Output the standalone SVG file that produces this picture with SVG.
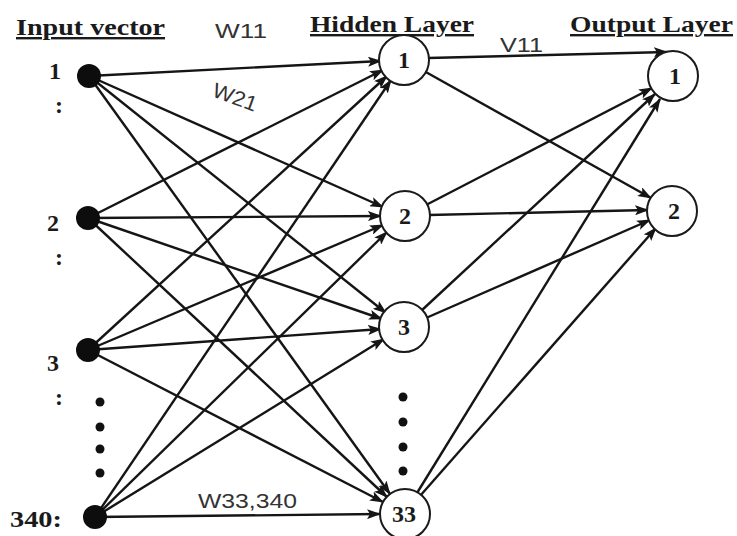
<svg xmlns="http://www.w3.org/2000/svg" width="737" height="536" viewBox="0 0 737 536">
  <style>
    .title { font-family: "Liberation Serif", "Times New Roman", serif; font-weight: bold; font-size: 24px; fill: #1a1a1a; text-decoration: underline; }
    .num { font-family: "Liberation Serif", "Times New Roman", serif; font-weight: bold; font-size: 24px; fill: #1a1a1a; }
    .wt { font-family: "Liberation Sans", Arial, sans-serif; font-size: 21px; fill: #333; }
    .edge { stroke: #151515; stroke-width: 2.4; fill: none; marker-end: url(#arrow); }
    .neuron { fill: #fff; stroke: #1a1a1a; stroke-width: 2; }
    .input { fill: #0d0d0d; }
    .dot { fill: #111; }
  </style>
  <defs>
    <marker id="arrow" markerUnits="userSpaceOnUse" markerWidth="14" markerHeight="10" refX="13" refY="5" orient="auto">
      <path d="M0,0 L14,5 L0,10 L3,5 z" fill="#151515"/>
    </marker>
  </defs>
  <rect width="737" height="536" fill="#fff"/>

  <!-- layer headings -->
  <text class="title" x="16" y="35" textLength="149" lengthAdjust="spacingAndGlyphs">Input vector</text>
  <text class="title" x="310" y="32" textLength="164" lengthAdjust="spacingAndGlyphs">Hidden Layer</text>
  <text class="title" x="570" y="32" textLength="163" lengthAdjust="spacingAndGlyphs">Output Layer</text>

  <!-- connectors -->
  <g id="connectors">
    <!-- input 1 -->
    <line class="edge" x1="89" y1="76" x2="381" y2="61"/>
    <line class="edge" x1="89" y1="76" x2="383" y2="207"/>
    <line class="edge" x1="89" y1="76" x2="386" y2="313"/>
    <line class="edge" x1="89" y1="76" x2="390" y2="494"/>
    <!-- input 2 -->
    <line class="edge" x1="88" y1="218" x2="383" y2="70"/>
    <line class="edge" x1="88" y1="218" x2="381" y2="216"/>
    <line class="edge" x1="88" y1="218" x2="382" y2="319"/>
    <line class="edge" x1="88" y1="218" x2="387" y2="497"/>
    <!-- input 3 -->
    <line class="edge" x1="88" y1="350" x2="387" y2="76"/>
    <line class="edge" x1="88" y1="350" x2="383" y2="225"/>
    <line class="edge" x1="88" y1="350" x2="381" y2="329"/>
    <line class="edge" x1="88" y1="350" x2="383" y2="502"/>
    <!-- input 340 -->
    <line class="edge" x1="95" y1="517" x2="391" y2="80"/>
    <line class="edge" x1="95" y1="517" x2="387" y2="232"/>
    <line class="edge" x1="95" y1="517" x2="384" y2="339"/>
    <line class="edge" x1="95" y1="517" x2="380" y2="514"/>
    <!-- hidden to output -->
    <line class="edge" x1="428" y1="58" x2="667" y2="52"/>
    <line class="edge" x1="424" y1="71" x2="651" y2="198"/>
    <line class="edge" x1="426" y1="205" x2="652" y2="88"/>
    <line class="edge" x1="429" y1="215" x2="648" y2="210"/>
    <line class="edge" x1="421" y1="311" x2="655" y2="94"/>
    <line class="edge" x1="426" y1="318" x2="650" y2="220"/>
    <line class="edge" x1="417" y1="493" x2="660" y2="99"/>
    <line class="edge" x1="420" y1="496" x2="656" y2="228"/>
  </g>

  <!-- weight labels -->
  <text class="wt" x="215" y="38" textLength="52" lengthAdjust="spacingAndGlyphs">W11</text>
  <text class="wt" x="211" y="96" transform="rotate(20 211 96)" textLength="46" lengthAdjust="spacingAndGlyphs">W21</text>
  <text class="wt" x="500" y="52" textLength="43" lengthAdjust="spacingAndGlyphs">V11</text>
  <text class="wt" x="198" y="508" textLength="99" lengthAdjust="spacingAndGlyphs">W33,340</text>

  <!-- input nodes -->
  <g id="in1">
    <circle class="input" cx="89" cy="76" r="12"/>
    <text class="num" x="49" y="79">1</text>
    <text class="num" x="55" y="113">:</text>
  </g>
  <g id="in2">
    <circle class="input" cx="88" cy="218" r="12"/>
    <text class="num" x="47" y="231">2</text>
    <text class="num" x="55" y="265">:</text>
  </g>
  <g id="in3">
    <circle class="input" cx="88" cy="350" r="12"/>
    <text class="num" x="47" y="371">3</text>
    <text class="num" x="55" y="405">:</text>
  </g>
  <g id="in-dots">
    <circle class="dot" cx="100" cy="402" r="4.5"/>
    <circle class="dot" cx="100" cy="427" r="4.5"/>
    <circle class="dot" cx="100" cy="449" r="4.5"/>
    <circle class="dot" cx="100" cy="473" r="4.5"/>
  </g>
  <g id="in340">
    <circle class="input" cx="95" cy="517" r="12"/>
    <text class="num" x="10" y="527" textLength="52" lengthAdjust="spacingAndGlyphs">340:</text>
  </g>

  <!-- hidden nodes -->
  <g id="h1">
    <circle class="neuron" cx="404" cy="60" r="25"/>
    <text class="num" x="404" y="68" text-anchor="middle">1</text>
  </g>
  <g id="h2">
    <circle class="neuron" cx="405" cy="216" r="25"/>
    <text class="num" x="405" y="224" text-anchor="middle">2</text>
  </g>
  <g id="h3">
    <circle class="neuron" cx="404" cy="327" r="25"/>
    <text class="num" x="404" y="335" text-anchor="middle">3</text>
  </g>
  <g id="h-dots">
    <circle class="dot" cx="403" cy="397" r="4.5"/>
    <circle class="dot" cx="403" cy="422" r="4.5"/>
    <circle class="dot" cx="403" cy="447" r="4.5"/>
    <circle class="dot" cx="403" cy="471" r="4.5"/>
  </g>
  <g id="h33">
    <circle class="neuron" cx="405" cy="514" r="25"/>
    <text class="num" x="404" y="522" text-anchor="middle">33</text>
  </g>

  <!-- output nodes -->
  <g id="o1">
    <circle class="neuron" cx="673" cy="76" r="25"/>
    <text class="num" x="675" y="84" text-anchor="middle">1</text>
  </g>
  <g id="o2">
    <circle class="neuron" cx="672" cy="211" r="25"/>
    <text class="num" x="674" y="219" text-anchor="middle">2</text>
  </g>
</svg>
